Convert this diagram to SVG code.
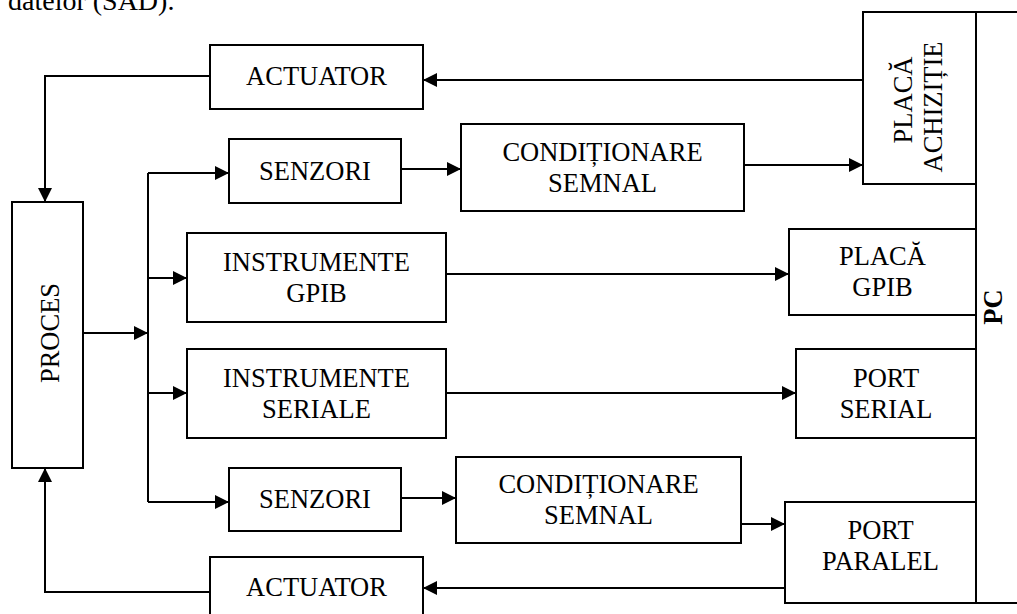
<svg xmlns="http://www.w3.org/2000/svg" width="1017" height="614" viewBox="0 0 1017 614">
<style>
.b{fill:#fff;stroke:#000;stroke-width:2}
.t{font-family:"Liberation Serif","Times New Roman",serif;font-size:26.5px;fill:#000;text-anchor:middle}
.c{fill:none;stroke:#000;stroke-width:2}
</style>
<defs>
<marker id="ah" viewBox="0 0 14 14" refX="14" refY="7" markerWidth="14" markerHeight="14" markerUnits="userSpaceOnUse" orient="auto">
<path d="M0,0 L14,7 L0,14 z" fill="#000"/>
</marker>
</defs>
<rect width="1017" height="614" fill="#fff"/>
<text x="8" y="10" style="font-family:'Liberation Serif',serif;font-size:28px">datelor (SAD).</text>

<g id="connectors">
<path class="c" d="M863,80 H423" marker-end="url(#ah)"/>
<path class="c" d="M210,76 H45 V202" marker-end="url(#ah)"/>
<path class="c" d="M83,333 H148" marker-end="url(#ah)"/>
<path class="c" d="M148,173 V502"/>
<path class="c" d="M148,173 H229" marker-end="url(#ah)"/>
<path class="c" d="M148,278 H187" marker-end="url(#ah)"/>
<path class="c" d="M148,393 H187" marker-end="url(#ah)"/>
<path class="c" d="M148,502 H229" marker-end="url(#ah)"/>
<path class="c" d="M401,169 H461" marker-end="url(#ah)"/>
<path class="c" d="M744,165 H863" marker-end="url(#ah)"/>
<path class="c" d="M446,274 H789" marker-end="url(#ah)"/>
<path class="c" d="M446,393 H796" marker-end="url(#ah)"/>
<path class="c" d="M401,498 H456" marker-end="url(#ah)"/>
<path class="c" d="M741,524 H785" marker-end="url(#ah)"/>
<path class="c" d="M785,588 H423" marker-end="url(#ah)"/>
<path class="c" d="M210,592 H45 V468" marker-end="url(#ah)"/>
<path class="c" d="M1017,12 H976 V603 H1017"/>
</g>

<g id="actuator-top">
<rect class="b" x="210" y="45" width="213" height="64"/>
<text class="t" x="316.5" y="85">ACTUATOR</text>
</g>
<g id="placa-achizitie">
<rect class="b" x="863" y="12" width="113" height="172"/>
<text class="t" transform="translate(912,100) rotate(-90)">PLACĂ</text>
<text class="t" transform="translate(942,107) rotate(-90)">ACHIZIȚIE</text>
</g>
<g id="proces">
<rect class="b" x="12" y="202" width="71" height="266"/>
<text class="t" transform="translate(59,333) rotate(-90)">PROCES</text>
</g>
<g id="senzori-top">
<rect class="b" x="229" y="139" width="172" height="64"/>
<text class="t" x="315" y="180">SENZORI</text>
</g>
<g id="conditionare-top">
<rect class="b" x="461" y="124" width="283" height="87"/>
<text class="t" x="602.5" y="161">CONDIȚIONARE</text>
<text class="t" x="602.5" y="192">SEMNAL</text>
</g>
<g id="instrumente-gpib">
<rect class="b" x="187" y="233" width="259" height="89"/>
<text class="t" x="316.5" y="271">INSTRUMENTE</text>
<text class="t" x="316.5" y="302">GPIB</text>
</g>
<g id="placa-gpib">
<rect class="b" x="789" y="229" width="187" height="86"/>
<text class="t" x="882.5" y="265">PLACĂ</text>
<text class="t" x="882.5" y="296">GPIB</text>
</g>
<g id="instrumente-seriale">
<rect class="b" x="187" y="349" width="259" height="89"/>
<text class="t" x="316.5" y="387">INSTRUMENTE</text>
<text class="t" x="316.5" y="418">SERIALE</text>
</g>
<g id="port-serial">
<rect class="b" x="796" y="349" width="180" height="89"/>
<text class="t" x="886" y="387">PORT</text>
<text class="t" x="886" y="418">SERIAL</text>
</g>
<g id="senzori-bottom">
<rect class="b" x="229" y="468" width="172" height="63"/>
<text class="t" x="315" y="508">SENZORI</text>
</g>
<g id="conditionare-bottom">
<rect class="b" x="456" y="457" width="285" height="86"/>
<text class="t" x="598.5" y="493">CONDIȚIONARE</text>
<text class="t" x="598.5" y="524">SEMNAL</text>
</g>
<g id="port-paralel">
<rect class="b" x="785" y="502" width="191" height="101"/>
<text class="t" x="880.5" y="539">PORT</text>
<text class="t" x="880.5" y="570">PARALEL</text>
</g>
<g id="actuator-bottom">
<rect class="b" x="210" y="557" width="213" height="66"/>
<text class="t" x="316.5" y="596">ACTUATOR</text>
</g>
<g id="pc">
<text class="t" style="font-weight:bold" transform="translate(1002,307) rotate(-90)">PC</text>
</g>
</svg>
